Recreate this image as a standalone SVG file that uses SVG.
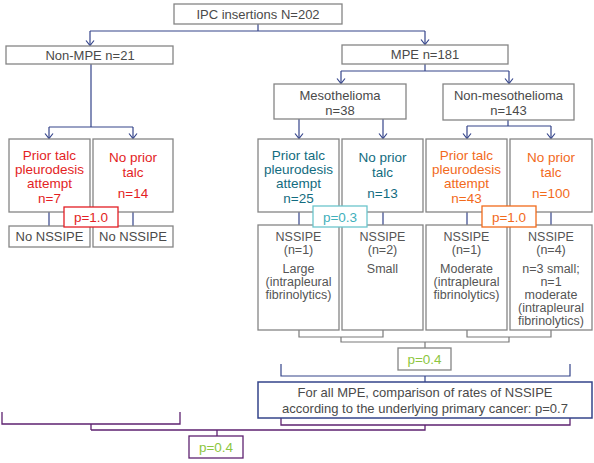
<svg xmlns="http://www.w3.org/2000/svg" width="594" height="463" viewBox="0 0 594 463">
<style>
text{font-family:"Liberation Sans",Arial,sans-serif;text-anchor:middle}
.box{fill:#fff;stroke:#858585;stroke-width:1.3}
.t{font-size:13px;fill:#4a4a4a}
.s{font-size:12.5px;fill:#555}
.red{font-size:13.5px;fill:#e31e24}
.teal{font-size:13.5px;fill:#136c80}
.orange{font-size:13.5px;fill:#f26a1b}
.green{font-size:13.5px;fill:#8dc63f}
.nav{fill:none;stroke:#34448a;stroke-width:1.2}
.gry{fill:none;stroke:#7a7a7a;stroke-width:1.2}
.pur{fill:none;stroke:#5e2270;stroke-width:1.3}
</style>
<defs>
<marker id="arr" viewBox="-6 -5 7 10" refX="0" refY="0" markerWidth="7" markerHeight="10" markerUnits="userSpaceOnUse" orient="auto">
<path d="M-5,-4 L0,0 L-5,4" fill="none" stroke="#34448a" stroke-width="1.2"/>
</marker>
</defs>
<g id="connectors">
<path class="nav" d="M258,24 V31 M90,31 H425"/>
<path class="nav" d="M90,31 V45.5" marker-end="url(#arr)"/>
<path class="nav" d="M425,31 V44.5" marker-end="url(#arr)"/>
<path class="nav" d="M425,64 V71 M341,71 H509"/>
<path class="nav" d="M341,71 V83.5" marker-end="url(#arr)"/>
<path class="nav" d="M509,71 V83.5" marker-end="url(#arr)"/>
<path class="nav" d="M91,64 V127 M49,127 H133"/>
<path class="nav" d="M49,127 V138.5" marker-end="url(#arr)"/>
<path class="nav" d="M133,127 V138.5" marker-end="url(#arr)"/>
<path class="nav" d="M299,119 V138.5" marker-end="url(#arr)"/>
<path class="nav" d="M383,119 V138.5" marker-end="url(#arr)"/>
<path class="nav" d="M508,120 V126 M467,126 H551"/>
<path class="nav" d="M467,126 V138.5" marker-end="url(#arr)"/>
<path class="nav" d="M551,126 V138.5" marker-end="url(#arr)"/>
<path class="nav" d="M49,212 V226 M133,212 V226 M299,212 V225 M383,212 V225 M467,212 V225 M551,212 V225"/>
<path class="gry" d="M299,330 V337 H383 V330 M467,330 V337 H551 V330 M341,337 V342 H509 V337 M425,342 V348"/>
<path class="nav" d="M281,364 V376 H570 V364 M425,376 V382"/>
<path class="pur" d="M281,418 V425 H570 V418 M425,425 V430 H91 M2,412 V424 H180 V412 M91,424 V430 M217,430 V436"/>
</g>
<g id="ipc"><rect class="box" x="174" y="4" width="168" height="20"/><text class="t" x="258" y="18.5">IPC insertions N=202</text></g>
<g id="non-mpe"><rect class="box" x="6" y="46" width="167" height="18"/><text class="t" x="90" y="59.5">Non-MPE n=21</text></g>
<g id="mpe"><rect class="box" x="342" y="45" width="166" height="19"/><text class="t" x="425" y="59">MPE n=181</text></g>
<g id="meso"><rect class="box" x="274" y="84" width="132" height="35"/><text class="t" x="340" y="99.5">Mesothelioma</text><text class="t" x="340" y="114.5">n=38</text></g>
<g id="nonmeso"><rect class="box" x="443" y="84" width="131" height="36"/><text class="t" x="508.5" y="99.5">Non-mesothelioma</text><text class="t" x="508.5" y="114.5">n=143</text></g>
<g id="nm-prior"><rect class="box" x="9" y="139" width="81" height="73"/><text class="red" x="49.5" y="160"><tspan x="49.5">Prior talc</tspan><tspan x="49.5" dy="14">pleurodesis</tspan><tspan x="49.5" dy="14">attempt</tspan><tspan x="49.5" dy="15">n=7</tspan></text></g>
<g id="nm-noprior"><rect class="box" x="93" y="139" width="80" height="73"/><text class="red" x="133" y="162"><tspan x="133">No prior</tspan><tspan x="133" dy="14.5">talc</tspan><tspan x="133" dy="21.5">n=14</tspan></text></g>
<g id="m-prior"><rect class="box" x="258" y="139" width="81" height="73"/><text class="teal" x="298.5" y="160"><tspan x="298.5">Prior talc</tspan><tspan x="298.5" dy="14">pleurodesis</tspan><tspan x="298.5" dy="14">attempt</tspan><tspan x="298.5" dy="15">n=25</tspan></text></g>
<g id="m-noprior"><rect class="box" x="342" y="139" width="81" height="73"/><text class="teal" x="382.5" y="162"><tspan x="382.5">No prior</tspan><tspan x="382.5" dy="14.5">talc</tspan><tspan x="382.5" dy="21.5">n=13</tspan></text></g>
<g id="o-prior"><rect class="box" x="426" y="139" width="81" height="73"/><text class="orange" x="466.5" y="160"><tspan x="466.5">Prior talc</tspan><tspan x="466.5" dy="14">pleurodesis</tspan><tspan x="466.5" dy="14">attempt</tspan><tspan x="466.5" dy="15">n=43</tspan></text></g>
<g id="o-noprior"><rect class="box" x="510" y="139" width="82" height="73"/><text class="orange" x="551" y="162"><tspan x="551">No prior</tspan><tspan x="551" dy="14.5">talc</tspan><tspan x="551" dy="21.5">n=100</tspan></text></g>
<g id="nm-r1"><rect class="box" x="9" y="226" width="81" height="21"/><text class="t" x="49.5" y="241">No NSSIPE</text></g>
<g id="nm-r2"><rect class="box" x="93" y="226" width="80" height="21"/><text class="t" x="133" y="241">No NSSIPE</text></g>
<g id="m-r1"><rect class="box" x="258" y="225" width="81" height="105"/><text class="s" x="298.5" y="240.5"><tspan x="298.5">NSSIPE</tspan><tspan x="298.5" dy="13">(n=1)</tspan><tspan x="298.5" dy="19.5">Large</tspan><tspan x="298.5" dy="13">(intrapleural</tspan><tspan x="298.5" dy="13">fibrinolytics)</tspan></text></g>
<g id="m-r2"><rect class="box" x="342" y="225" width="81" height="105"/><text class="s" x="382.5" y="240.5"><tspan x="382.5">NSSIPE</tspan><tspan x="382.5" dy="13">(n=2)</tspan><tspan x="382.5" dy="19.5">Small</tspan></text></g>
<g id="o-r1"><rect class="box" x="426" y="225" width="81" height="105"/><text class="s" x="466.5" y="240.5"><tspan x="466.5">NSSIPE</tspan><tspan x="466.5" dy="13">(n=1)</tspan><tspan x="466.5" dy="19.5">Moderate</tspan><tspan x="466.5" dy="13">(intrapleural</tspan><tspan x="466.5" dy="13">fibrinolytics)</tspan></text></g>
<g id="o-r2"><rect class="box" x="510" y="225" width="82" height="105"/><text class="s" x="551" y="240.5"><tspan x="551">NSSIPE</tspan><tspan x="551" dy="13">(n=4)</tspan><tspan x="551" dy="19.5">n=3 small;</tspan><tspan x="551" dy="13">n=1</tspan><tspan x="551" dy="13">moderate</tspan><tspan x="551" dy="13">(intrapleural</tspan><tspan x="551" dy="13">fibrinolytics)</tspan></text></g>
<g id="p-red"><rect x="64" y="207" width="54" height="20" fill="#fff" stroke="#e31e24" stroke-width="1.3"/><text class="red" x="91" y="222">p=1.0</text></g>
<g id="p-teal"><rect x="313" y="206" width="54" height="21" fill="#fff" stroke="#6cc5cc" stroke-width="1.3"/><text class="teal" x="340" y="221.5" style="fill:#3fb0bb">p=0.3</text></g>
<g id="p-orange"><rect x="482" y="206" width="54" height="21" fill="#fff" stroke="#f26a1b" stroke-width="1.3"/><text class="orange" x="509" y="221.5">p=1.0</text></g>
<g id="p-mid"><rect class="box" x="398" y="348" width="53" height="22"/><text class="green" x="424.5" y="364">p=0.4</text></g>
<g id="all-mpe"><rect x="258" y="382" width="334" height="36" fill="#fff" stroke="#34448a" stroke-width="1.5"/><text class="t" x="425" y="397">For all MPE, comparison of rates of NSSIPE</text><text class="t" x="425" y="413">according to the underlying primary cancer: p=0.7</text></g>
<g id="p-bottom"><rect x="189" y="436" width="54" height="22" fill="#fff" stroke="#5e2270" stroke-width="1.3"/><text class="green" x="216" y="452">p=0.4</text></g>
</svg>
